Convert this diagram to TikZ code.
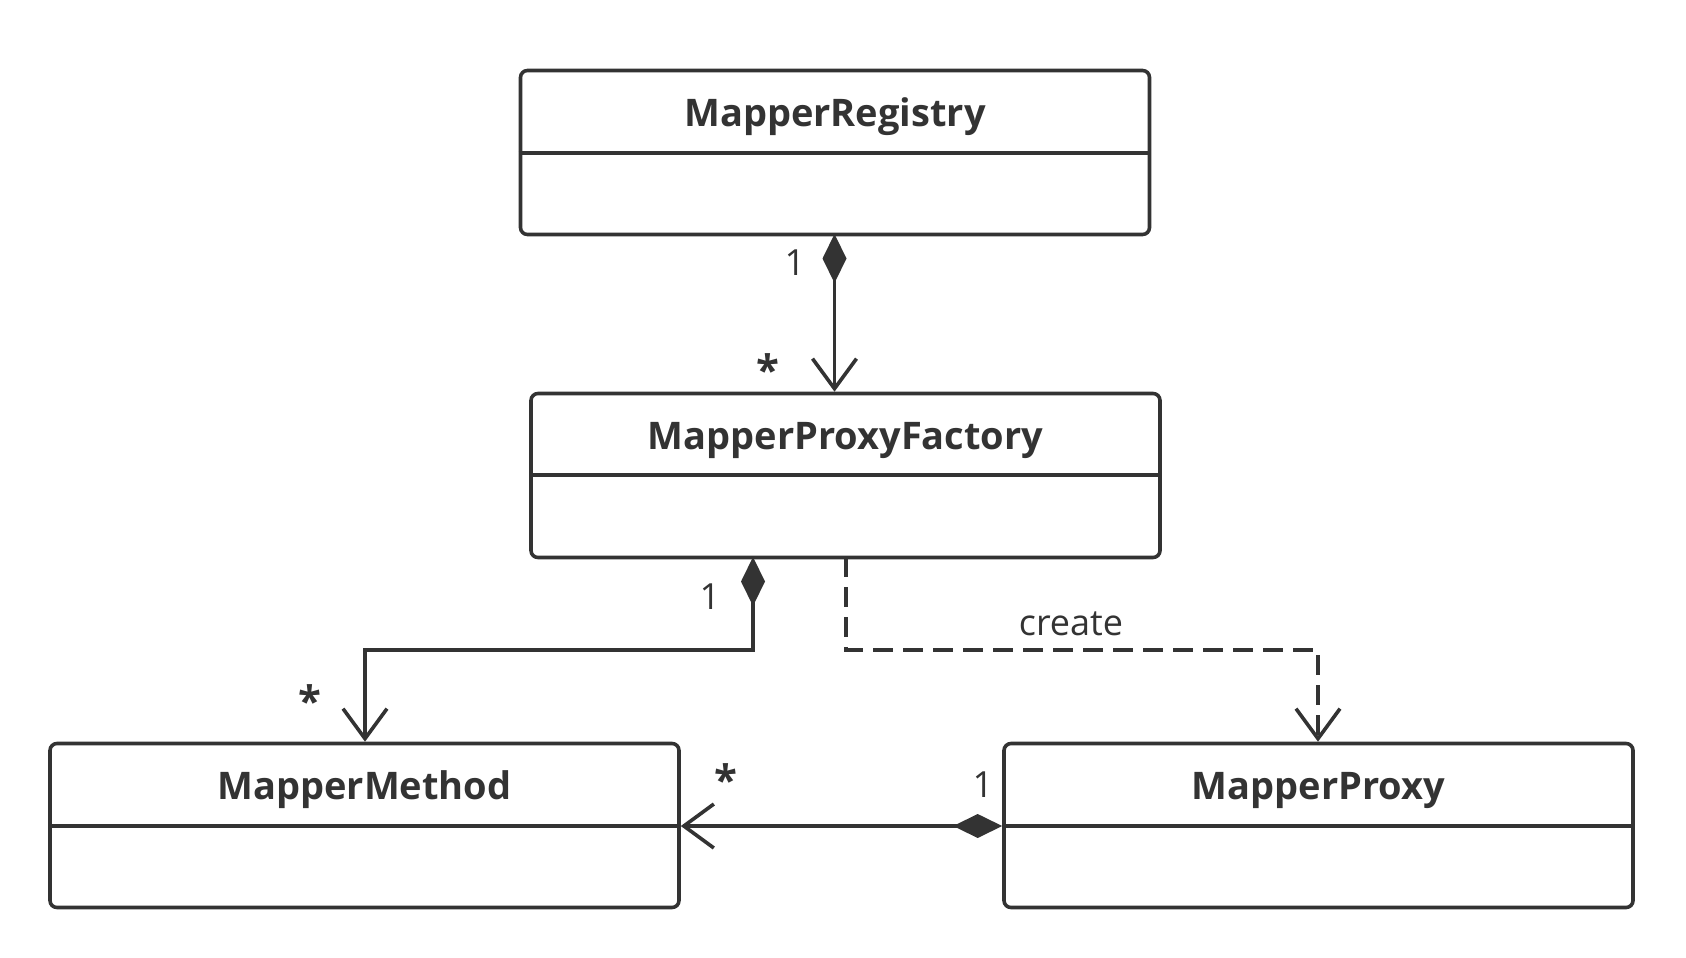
\documentclass[tikz,border=0pt]{standalone}
\usepackage{fontspec}
\setmainfont{Open Sans}
\usetikzlibrary{arrows.meta}
\definecolor{ink}{HTML}{333333}
\tikzset{
  umlbox/.style={draw=ink, line width=3.6pt, rounded corners=7pt, rectangle, inner sep=0pt, minimum width=629pt, minimum height=164pt},
  title/.style={font=\fontsize{38}{42}\selectfont\bfseries, text=ink},
  mult/.style={font=\fontsize{36}{40}\selectfont, text=ink},
  star/.style={font=\fontsize{42}{42}\selectfont\bfseries, text=ink},
  conn/.style={draw=ink, line width=3.6pt},
  comp/.style={conn, {Diamond[length=49pt,width=24pt,line width=0pt]}-{Straight Barb[length=30pt,width=44pt,line width=3.6pt]}},
  dep/.style={conn, dashed, dash pattern=on 20pt off 10pt, -{Straight Barb[length=30pt,width=44pt,line width=3.6pt]}},
}
\begin{document}
\begin{tikzpicture}[x=1pt,y=-1pt]
\useasboundingbox (0,0) rectangle (1686,958);
% boxes
\node[umlbox] (reg) at (835,152.5) {};
\node[umlbox] (fac) at (845.5,475.5) {};
\node[umlbox] (met) at (364.5,825.5) {};
\node[umlbox] (pro) at (1318.5,825.5) {};
% titles
\node[title] (tReg) at (835,117) {MapperRegistry};
\node[title] (tFac) at (845.5,440) {MapperProxyFactory};
\node[title] (tMet) at (364.5,790) {MapperMethod};
\node[title] (tPro) at (1318.5,790) {MapperProxy};
% dividers
\coordinate (dReg) at (835,153);
\coordinate (dFac) at (845,475);
\coordinate (dMet) at (364,826);
\coordinate (dPro) at (1318,826);
\draw[conn] (reg.west |- dReg) -- (reg.east |- dReg);
\draw[conn] (fac.west |- dFac) -- (fac.east |- dFac);
\draw[conn] (met.west |- dMet) -- (met.east |- dMet);
\draw[conn] (pro.west |- dPro) -- (pro.east |- dPro);
% connector points
\coordinate (a1) at (834.5,234);
\coordinate (c1) at (753,557);
\coordinate (k1) at (753,650);
\coordinate (k2) at (365,650);
\coordinate (e1) at (846,557);
\coordinate (k3) at (846,650);
\coordinate (k4) at (1318,650);
% registry -> factory
\draw[comp] (a1) -- (a1 |- fac.north);
\node[mult] (m1) at (795,263) {1};
\node[star] (s1) at (768,370) {*};
% factory -> method
\draw[comp] (c1) -- (k1) -- (k2) -- (k2 |- met.north);
\node[mult] (m2) at (710,597) {1};
\node[star] (s2) at (310,701) {*};
% factory -> proxy (create)
\draw[dep] (e1) -- (k3) -- (k4) -- (k4 |- pro.north);
\node[mult] (lc) at (1071,624) {create};
% proxy -> method
\draw[comp] (pro.west |- dPro) -- (met.east |- dMet);
\node[star] (s3) at (726,780) {*};
\node[mult] (m4) at (983,785) {1};
\end{tikzpicture}
\end{document}
